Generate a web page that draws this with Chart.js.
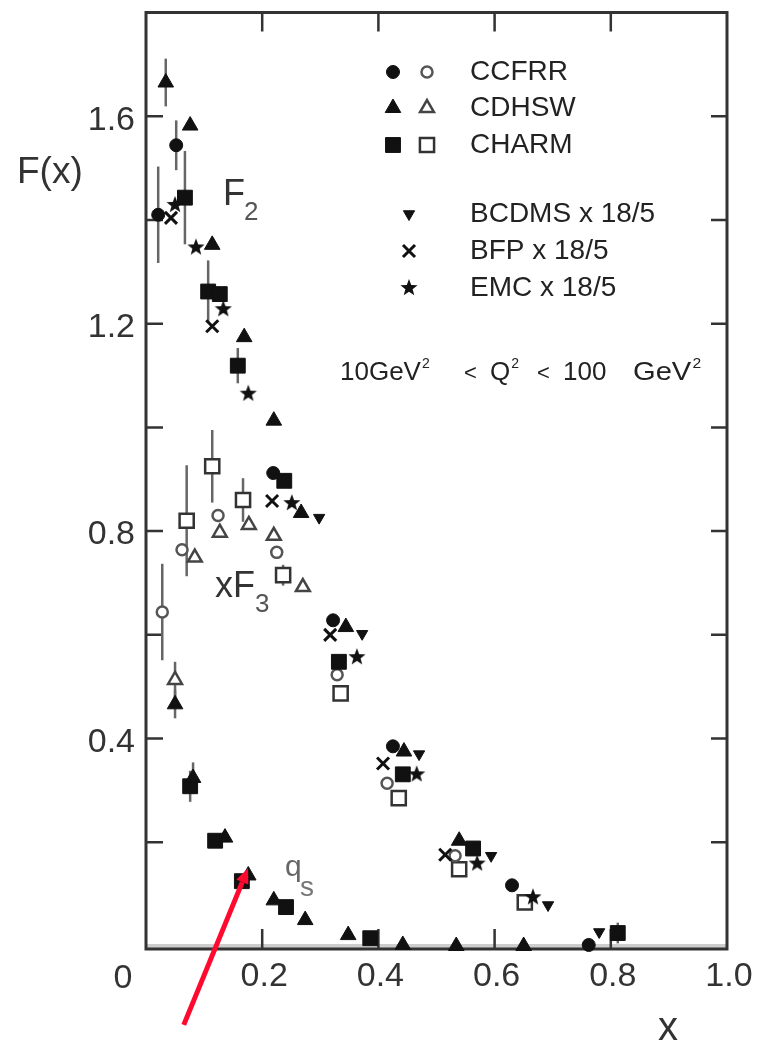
<!DOCTYPE html>
<html>
<head>
<meta charset="utf-8">
<title>F(x)</title>
<script src="https://cdn.jsdelivr.net/npm/chart.js@4/dist/chart.umd.min.js"></script>
<style>
  html, body { margin: 0; padding: 0; background: #fff; }
  #grafico { display: block; }
</style>
</head>
<body>
<canvas id="grafico" width="757" height="1042"></canvas>
<script>
// CCFRR: F2 (pieni) e xF3 (vuoti)
const ccfrrF2X = [0.021, 0.052, 0.219, 0.322, 0.425, 0.630, 0.762];
const ccfrrF2Y = [1.410, 1.544, 0.912, 0.628, 0.385, 0.117, 0.002];
const ccfrrF2Err = [0.093, 0.048, 0, 0, 0, 0, 0];
const ccfrrF3X = [0.028, 0.062, 0.124, 0.225, 0.329, 0.415, 0.532];
const ccfrrF3Y = [0.644, 0.764, 0.830, 0.759, 0.523, 0.314, 0.174];
const ccfrrF3Err = [0.093, 0, 0, 0, 0, 0, 0];

// CDHSW
const cdhswF2X = [0.034, 0.076, 0.114, 0.169, 0.220, 0.267, 0.344, 0.444, 0.539];
const cdhswF2Y = [1.665, 1.582, 1.352, 1.174, 1.013, 0.835, 0.615, 0.375, 0.203];
const cdhswF2Err = [0.046, 0, 0, 0, 0, 0, 0, 0, 0];
const cdhswF3X = [0.050, 0.084, 0.127, 0.177, 0.220, 0.270];
const cdhswF3Y = [0.513, 0.749, 0.797, 0.812, 0.791, 0.692];
const cdhswF3Err = [0.035, 0, 0, 0, 0, 0];
const cdhswQsX = [0.050, 0.081, 0.136, 0.176, 0.220, 0.274, 0.348, 0.442, 0.534, 0.650];
const cdhswQsY = [0.466, 0.324, 0.209, 0.136, 0.088, 0.050, 0.021, 0.002, 0.000, 0.000];
const cdhswQsErr = [0.027, 0.030, 0, 0, 0, 0, 0, 0, 0, 0];

// CHARM
const charmF2X = [0.067, 0.107, 0.127, 0.158, 0.238, 0.332, 0.442, 0.563, 0.812];
const charmF2Y = [1.443, 1.262, 1.257, 1.119, 0.897, 0.548, 0.331, 0.188, 0.025];
const charmF2Err = [0.090, 0.060, 0, 0.034, 0, 0, 0, 0, 0.020];
const charmF3X = [0.070, 0.114, 0.167, 0.236, 0.335, 0.435, 0.539, 0.652];
const charmF3Y = [0.820, 0.925, 0.860, 0.715, 0.487, 0.285, 0.148, 0.084];
const charmF3Err = [0.107, 0.070, 0.042, 0.020, 0, 0, 0, 0];
const charmQsX = [0.076, 0.119, 0.165, 0.241, 0.386];
const charmQsY = [0.308, 0.203, 0.125, 0.075, 0.015];
const charmQsErr = [0.030, 0, 0, 0, 0];

// muoni x 18/5
const bcdmsX = [0.298, 0.372, 0.470, 0.594, 0.692, 0.780];
const bcdmsY = [0.826, 0.602, 0.370, 0.174, 0.079, 0.027];
const bfpX = [0.043, 0.114, 0.217, 0.317, 0.408, 0.515];
const bfpY = [1.404, 1.195, 0.858, 0.600, 0.352, 0.176];
const emcX = [0.050, 0.086, 0.133, 0.176, 0.251, 0.363, 0.466, 0.570, 0.666];
const emcY = [1.429, 1.347, 1.228, 1.065, 0.854, 0.557, 0.331, 0.159, 0.094];

// assi
const xTicks = [0, 0.2, 0.4, 0.6, 0.8, 1.0];
const yTicks = [0, 0.2, 0.4, 0.6, 0.8, 1.0, 1.2, 1.4, 1.6];
const yEtichette = [0.4, 0.8, 1.2, 1.6];

const famiglia = "'Liberation Sans', Arial, Helvetica, sans-serif";
const inchiostro = "#222";

function stella(r, colore) {
  const c = document.createElement("canvas"),
    lato = Math.ceil(2 * r + 2);
  c.width = c.height = lato;
  const g = c.getContext("2d");
  g.fillStyle = colore;
  g.beginPath();
  for (let k = 0; k < 10; k++) {
    const rr = k % 2 ? r * 0.42 : r,
      a = -Math.PI / 2 + (k * Math.PI) / 5;
    g.lineTo(lato / 2 + rr * Math.cos(a), lato / 2 + rr * Math.sin(a));
  }
  g.closePath();
  g.fill();
  return c;
}

const stili = {
  cerchioPieno: { pointStyle: "circle", pointRadius: 6.5, pointBackgroundColor: "#111", pointBorderColor: "#111", pointBorderWidth: 1 },
  cerchioVuoto: { pointStyle: "circle", pointRadius: 5.5, pointBackgroundColor: "#fff", pointBorderColor: "#555", pointBorderWidth: 2.5 },
  triPieno: { pointStyle: "triangle", pointRadius: 9, pointBackgroundColor: "#111", pointBorderColor: "#111", pointBorderWidth: 1 },
  triVuoto: { pointStyle: "triangle", pointRadius: 8, pointBackgroundColor: "#fff", pointBorderColor: "#444", pointBorderWidth: 2.5 },
  quadPieno: { pointStyle: "rect", pointRadius: 10.5, pointBackgroundColor: "#111", pointBorderColor: "#111", pointBorderWidth: 1 },
  quadVuoto: { pointStyle: "rect", pointRadius: 10, pointBackgroundColor: "#fff", pointBorderColor: "#333", pointBorderWidth: 2.5 },
  triGiu: { pointStyle: "triangle", pointRadius: 6.5, pointRotation: 180, pointBackgroundColor: "#111", pointBorderColor: "#111", pointBorderWidth: 1 },
  croce: { pointStyle: "crossRot", pointRadius: 8.5, pointBackgroundColor: "#111", pointBorderColor: "#111", pointBorderWidth: 3 },
  stella: { pointStyle: stella(9, "#111"), pointRadius: 9, pointBackgroundColor: "#111", pointBorderColor: "#111", pointBorderWidth: 0 },
};

const serie = (label, xs, ys, errs, stile) => ({
  label,
  data: xs.map((x, i) => ({ x, y: ys[i] })),
  errs: errs || [],
  clip: false,
  showLine: false,
  ...stile,
});

const dati = {
  datasets: [
    serie("EMC x 18/5", emcX, emcY, null, stili.stella),
    serie("BFP x 18/5", bfpX, bfpY, null, stili.croce),
    serie("BCDMS x 18/5", bcdmsX, bcdmsY, null, stili.triGiu),
    serie("CCFRR F2", ccfrrF2X, ccfrrF2Y, ccfrrF2Err, stili.cerchioPieno),
    serie("CDHSW F2", cdhswF2X, cdhswF2Y, cdhswF2Err, stili.triPieno),
    serie("CHARM F2", charmF2X, charmF2Y, charmF2Err, stili.quadPieno),
    serie("CCFRR xF3", ccfrrF3X, ccfrrF3Y, ccfrrF3Err, stili.cerchioVuoto),
    serie("CDHSW xF3", cdhswF3X, cdhswF3Y, cdhswF3Err, stili.triVuoto),
    serie("CHARM xF3", charmF3X, charmF3Y, charmF3Err, stili.quadVuoto),
    serie("CDHSW qs", cdhswQsX, cdhswQsY, cdhswQsErr, stili.triPieno),
    serie("CHARM qs", charmQsX, charmQsY, charmQsErr, stili.quadPieno),
  ],
};

function scrivi(ctx, testo, x, y, size, colore = inchiostro, align = "left", base = "alphabetic") {
  ctx.font = `${size}px ${famiglia}`;
  ctx.fillStyle = colore;
  ctx.textAlign = align;
  ctx.textBaseline = base;
  ctx.fillText(testo, x, y);
  return x + ctx.measureText(testo).width;
}

function marcatore(ctx, stile, x, y) {
  ctx.fillStyle = stile.pointBackgroundColor;
  ctx.strokeStyle = stile.pointBorderColor;
  ctx.lineWidth = stile.pointBorderWidth;
  Chart.helpers.drawPoint(
    ctx,
    { pointStyle: stile.pointStyle, radius: stile.pointRadius, rotation: stile.pointRotation || 0, borderWidth: stile.pointBorderWidth },
    x,
    y
  );
}

// cornice, tacche interne e barre d'errore sotto i punti
const cornice = {
  id: "cornice",
  beforeDatasetsDraw(chart) {
    const { ctx, chartArea: a, scales } = chart,
      sx = scales.x,
      sy = scales.y;
    ctx.save();
    ctx.fillStyle = "#cdcdcd";
    ctx.fillRect(a.left, a.bottom - 2, a.right - a.left, 4);
    ctx.strokeStyle = "#333";
    ctx.lineWidth = 3;
    ctx.strokeRect(a.left, a.top, a.right - a.left, a.bottom + 3 - a.top);
    ctx.lineWidth = 2.5;
    ctx.beginPath();
    xTicks.slice(1, -1).forEach((v) => {
      const px = sx.getPixelForValue(v);
      ctx.moveTo(px, a.bottom + 3);
      ctx.lineTo(px, a.bottom - 17);
      ctx.moveTo(px, a.top);
      ctx.lineTo(px, a.top + 19);
    });
    yTicks.slice(1).forEach((v) => {
      const py = sy.getPixelForValue(v);
      ctx.moveTo(a.left, py);
      ctx.lineTo(a.left + 17, py);
      ctx.moveTo(a.right, py);
      ctx.lineTo(a.right - 16, py);
    });
    ctx.stroke();

    ctx.strokeStyle = "#666";
    ctx.lineWidth = 2.5;
    chart.data.datasets.forEach((ds) => {
      ds.errs.forEach((e, i) => {
        if (!e) return;
        const p = ds.data[i],
          px = sx.getPixelForValue(p.x);
        ctx.beginPath();
        ctx.moveTo(px, sy.getPixelForValue(p.y - e));
        ctx.lineTo(px, sy.getPixelForValue(p.y + e));
        ctx.stroke();
      });
    });
    ctx.restore();
  },
};

// legenda, scritte e freccia
const note = {
  id: "note",
  afterDraw(chart) {
    const { ctx, scales } = chart,
      sx = scales.x,
      sy = scales.y;
    ctx.save();

    const righe = [
      { testo: "CCFRR", y: 72, m: [stili.cerchioPieno, stili.cerchioVuoto] },
      { testo: "CDHSW", y: 108, m: [stili.triPieno, stili.triVuoto] },
      { testo: "CHARM", y: 145, m: [stili.quadPieno, stili.quadVuoto] },
      { testo: "BCDMS x 18/5", y: 214, m: [stili.triGiu] },
      { testo: "BFP x 18/5", y: 251, m: [stili.croce] },
      { testo: "EMC x 18/5", y: 288, m: [stili.stella] },
    ];
    righe.forEach((r) => {
      if (r.m.length === 2) {
        marcatore(ctx, r.m[0], 393, r.y);
        marcatore(ctx, r.m[1], 427, r.y);
      } else {
        marcatore(ctx, r.m[0], 409, r.y);
      }
      scrivi(ctx, r.testo, 470, r.y, 28, inchiostro, "left", "middle");
    });

    // intervallo in Q^2
    let fine = scrivi(ctx, "10GeV", 340, 380, 26);
    scrivi(ctx, "2", fine + 1, 368, 14);
    scrivi(ctx, "<", 464, 380, 22);
    fine = scrivi(ctx, "Q", 490, 380, 26);
    scrivi(ctx, "2", fine + 1, 368, 14);
    scrivi(ctx, "<", 537, 380, 22);
    scrivi(ctx, "100", 563, 380, 26);
    ctx.save();
    ctx.translate(633, 0);
    ctx.scale(1.12, 1);
    fine = scrivi(ctx, "GeV", 0, 380, 26);
    scrivi(ctx, "2", fine + 1, 368, 14);
    ctx.restore();

    // nomi delle curve
    scrivi(ctx, "F", 223, 205, 36, "#333");
    scrivi(ctx, "2", 244, 220, 26, "#555");
    scrivi(ctx, "xF", 215, 597, 36, "#333");
    scrivi(ctx, "3", 255, 612, 26, "#555");
    scrivi(ctx, "q", 285, 876, 30, "#666");
    scrivi(ctx, "s", 300, 896, 28, "#777");

    // titoli e origine
    scrivi(ctx, "F(x)", 17, 183, 37, "#333");
    scrivi(ctx, "x", 668, 1040, 40, "#333", "center");
    scrivi(ctx, "0", 123, 988, 34, "#333", "center");

    // freccia rossa verso i qs
    const x0 = sx.getPixelForValue(0.065),
      y0 = sy.getPixelForValue(-0.152),
      x1 = sx.getPixelForValue(0.1756),
      y1 = sy.getPixelForValue(0.15),
      len = Math.hypot(x1 - x0, y1 - y0),
      ux = (x1 - x0) / len,
      uy = (y1 - y0) / len,
      punta = 15,
      mezza = 6.5;
    ctx.strokeStyle = "#ff0a2e";
    ctx.fillStyle = "#ff0a2e";
    ctx.lineWidth = 5;
    ctx.beginPath();
    ctx.moveTo(x0, y0);
    ctx.lineTo(x1 - ux * punta, y1 - uy * punta);
    ctx.stroke();
    ctx.beginPath();
    ctx.moveTo(x1, y1);
    ctx.lineTo(x1 - ux * punta - uy * mezza, y1 - uy * punta + ux * mezza);
    ctx.lineTo(x1 - ux * punta + uy * mezza, y1 - uy * punta - ux * mezza);
    ctx.closePath();
    ctx.fill();

    ctx.restore();
  },
};

// niente margini extra per le etichette: l'area del grafico resta fissa
const senzaMargini = (s) => {
  s.paddingTop = 0;
  s.paddingBottom = 0;
  s.paddingLeft = 0;
  s.paddingRight = 0;
};

const config = {
  type: "scatter",
  data: dati,
  options: {
    responsive: false,
    devicePixelRatio: 1,
    animation: false,
    events: [],
    layout: { padding: { left: 0, right: 30, top: 6, bottom: 0 } },
    plugins: { legend: { display: false }, tooltip: { enabled: false } },
    scales: {
      x: {
        type: "linear",
        min: 0,
        max: 1,
        afterBuildTicks: (s) => {
          s.ticks = xTicks.map((value) => ({ value }));
        },
        afterFit: (s) => {
          s.height = 96;
          senzaMargini(s);
        },
        grid: { display: false, drawTicks: false },
        border: { display: false },
        ticks: {
          callback: (v) => (v === 0 ? "" : v.toFixed(1)),
          font: { family: famiglia, size: 34 },
          color: "#333",
          padding: 10,
          labelOffset: 2,
          maxRotation: 0,
          autoSkip: false,
        },
      },
      y: {
        type: "linear",
        min: 0,
        max: 1.8,
        afterBuildTicks: (s) => {
          s.ticks = yTicks.map((value) => ({ value }));
        },
        afterFit: (s) => {
          s.width = 146;
          senzaMargini(s);
        },
        grid: { display: false, drawTicks: false },
        border: { display: false },
        ticks: {
          callback: (v) => (yEtichette.includes(v) ? v.toFixed(1) : ""),
          font: { family: famiglia, size: 34 },
          color: "#333",
          padding: 11,
          labelOffset: 4,
          autoSkip: false,
        },
      },
    },
  },
  plugins: [cornice, note],
};

const ctx = document.getElementById("grafico").getContext("2d");
new Chart(ctx, config);
</script>
</body>
</html>
